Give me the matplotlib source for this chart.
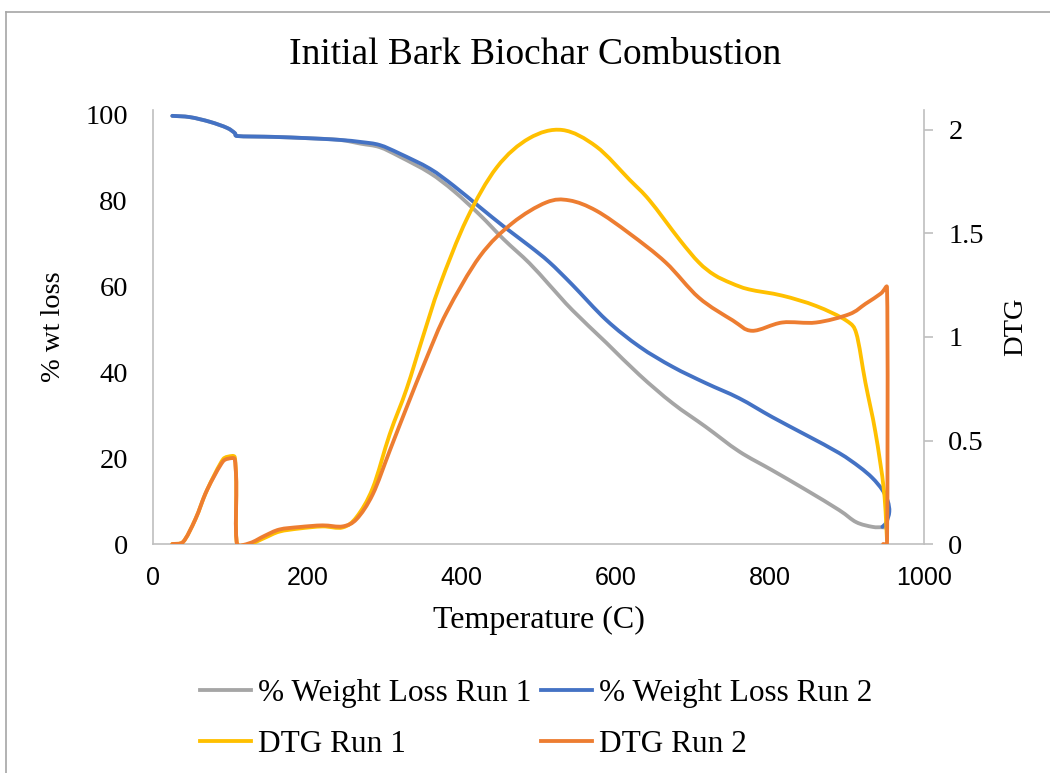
import matplotlib
matplotlib.use("Agg")
import math
import matplotlib.pyplot as plt
from matplotlib.lines import Line2D
from matplotlib.path import Path
from matplotlib.patches import PathPatch

plt.rcParams['font.family'] = ['Liberation Serif', 'DejaVu Serif']

# --- data ---
t_w1 = [25, 48, 74, 96, 106, 109, 156, 200, 242, 270, 294, 320, 359, 390, 424,
        455, 488, 514, 544, 588, 631, 674, 717, 760, 803, 847, 890, 912, 933, 946, 952]
wt1 = [99.8, 99.5, 98.4, 97.0, 95.8, 95.1, 94.9, 94.6, 94.2, 93.3, 92.5, 90.3, 86.5, 82.3, 76.7,
       71.0, 65.5, 60.4, 54.5, 46.9, 39.4, 32.8, 27.3, 21.6, 17.2, 12.6, 7.9, 5.1, 4.0, 3.9, 3.8]

t_w2 = [25, 48, 74, 96, 106, 109, 156, 200, 242, 270, 294, 320, 359, 390, 424,
        455, 488, 514, 544, 588, 631, 674, 717, 760, 803, 847, 890, 916, 933, 946,
        953, 955, 951, 946]
wt2 = [99.8, 99.5, 98.4, 97.0, 95.8, 95.1, 94.9, 94.6, 94.2, 93.7, 93.0, 91.0, 87.5, 83.5, 78.5,
       74.0, 69.5, 65.7, 60.4, 52.2, 46.0, 41.3, 37.5, 34.0, 29.6, 25.4, 21.2, 18.0, 15.4, 12.6,
       10.0, 7.5, 5.0, 4.0]

t_d1 = [25, 39, 55, 70, 91, 102, 106, 108, 109, 126, 145, 164, 190, 220, 246, 264, 285,
        307, 329, 350, 372, 407, 446, 488, 531, 575, 618, 644, 683, 708, 728, 750, 773, 816,
        860, 899, 912, 924, 937, 948, 952]
dtg1 = [0, 0.01, 0.12, 0.26, 0.41, 0.425, 0.42, 0.3, 0, 0.0, 0.03, 0.06, 0.075, 0.085, 0.08,
        0.13, 0.27, 0.53, 0.75, 1.0, 1.25, 1.57, 1.82, 1.96, 2.0, 1.92, 1.76, 1.66, 1.47, 1.36,
        1.30, 1.26, 1.23, 1.20, 1.15, 1.08, 1.02, 0.78, 0.54, 0.26, 0.02]

t_d2 = [25, 39, 55, 70, 91, 102, 106, 108, 109, 126, 145, 164, 190, 220, 246, 264, 285,
        307, 329, 355, 381, 424, 466, 510, 540, 575, 618, 665, 708, 752, 777, 816, 860,
        903, 924, 944, 952, 952, 947]
dtg2 = [0, 0.01, 0.12, 0.26, 0.40, 0.415, 0.41, 0.3, 0, 0.005, 0.04, 0.07, 0.082, 0.09, 0.085,
        0.12, 0.24, 0.45, 0.66, 0.90, 1.12, 1.39, 1.55, 1.65, 1.66, 1.61, 1.50, 1.36, 1.19,
        1.08, 1.03, 1.07, 1.07, 1.11, 1.16, 1.21, 1.24, 0, 0]

labels = ['% Weight Loss Run 1', '% Weight Loss Run 2', 'DTG Run 1', 'DTG Run 2']
colors = ['#A5A5A5', '#4472C4', '#FFC000', '#ED7D31']

X_MAX = 1000
WT_MAX = 100 * 434 / 429
DTG_MAX = 2 * 434 / 414


def smooth_path(x, y, sx, sy):
    # Excel-style smoothed line: cubic Bezier through every point,
    # control arms limited to half the segment so sharp drops don't overshoot
    pts = list(zip(x, y))
    verts = [pts[0]]
    codes = [Path.MOVETO]
    n = len(pts)

    def arm(base, dx, dy, seg):
        ln = math.hypot(dx / sx, dy / sy)
        if ln > 0.5 * seg and ln > 0:
            k = 0.5 * seg / ln
            dx, dy = dx * k, dy * k
        return (base[0] + dx, base[1] + dy)

    for i in range(n - 1):
        p0 = pts[i - 1] if i > 0 else pts[i]
        p1 = pts[i]
        p2 = pts[i + 1]
        p3 = pts[i + 2] if i + 2 < n else pts[i + 1]
        seg = math.hypot((p2[0] - p1[0]) / sx, (p2[1] - p1[1]) / sy)
        c1 = arm(p1, (p2[0] - p0[0]) / 6, (p2[1] - p0[1]) / 6, seg)
        c2 = arm(p2, -(p3[0] - p1[0]) / 6, -(p3[1] - p1[1]) / 6, seg)
        verts += [c1, c2, p2]
        codes += [Path.CURVE4] * 3
    return Path(verts, codes)


W, H = 1050, 773
fig = plt.figure(figsize=(W / 100, H / 100), dpi=100)

ax = fig.add_axes([153 / W, 1 - 544 / H, 771 / W, 434 / H])
ax2 = ax.twinx()

lw = 2.75
series = [(ax, t_w1, wt1, WT_MAX), (ax, t_w2, wt2, WT_MAX),
          (ax2, t_d1, dtg1, DTG_MAX), (ax2, t_d2, dtg2, DTG_MAX)]
handles = []
for (a, xs, ys, ymax), c, lab in zip(series, colors, labels):
    a.add_patch(PathPatch(smooth_path(xs, ys, X_MAX, ymax), fill=False, edgecolor=c, lw=lw,
                          joinstyle='round', capstyle='round'))
    handles.append(Line2D([], [], color=c, lw=lw, label=lab))

ax.set_xlim(0, X_MAX)
ax.set_ylim(0, WT_MAX)
ax2.set_ylim(0, DTG_MAX)

ax.set_xticks(range(0, 1001, 200))
ax.set_yticks(range(0, 101, 20))
ax2.set_yticks([0, 0.5, 1, 1.5, 2])
ax2.set_yticklabels(['0', '0.5', '1', '1.5', '2'])

axis_col = '#BFBFBF'
for a in (ax, ax2):
    for s in a.spines.values():
        s.set_color(axis_col)
        s.set_linewidth(1.2)
    a.spines['top'].set_visible(False)
ax.spines['right'].set_visible(False)
ax2.spines['left'].set_visible(False)
ax2.spines['bottom'].set_visible(False)

ax.tick_params(axis='y', length=0, pad=18, labelsize=20.5)
ax.tick_params(axis='x', length=0, pad=16, labelsize=18)
ax2.tick_params(axis='y', length=6.5, width=1.2, color=axis_col, pad=11, labelsize=20.5)
for lab in ax.get_xticklabels():
    lab.set_family(['Liberation Sans Narrow', 'Liberation Sans', 'DejaVu Sans'])

ax.set_xlabel('Temperature (C)', fontsize=23, labelpad=11)
ax.set_ylabel('% wt loss', fontsize=20.5, labelpad=14)
ax2.set_ylabel('DTG', fontsize=20.5, labelpad=14)

fig.text(535 / W, 1 - 55 / H, 'Initial Bark Biochar Combustion', fontsize=27,
         ha='center', va='center')

# column-wise fill -> order so rows read: weight runs, then DTG runs
order = [0, 2, 1, 3]
fig.legend([handles[i] for i in order], [labels[i] for i in order], ncol=2, loc='center',
           bbox_to_anchor=(536 / W, 1 - 719 / H), frameon=False, fontsize=22.5,
           handlelength=1.65, handletextpad=0.22, columnspacing=0.3,
           labelspacing=0.7, borderpad=0)

# chart-area border
bc = '#A6A6A6'
fig.add_artist(Line2D([6 / W, 6 / W], [0, 1 - 12 / H], color=bc, lw=1.2))
fig.add_artist(Line2D([6 / W, 1], [1 - 12 / H, 1 - 12 / H], color=bc, lw=1.2))

fig.savefig('out.png', dpi=100)
